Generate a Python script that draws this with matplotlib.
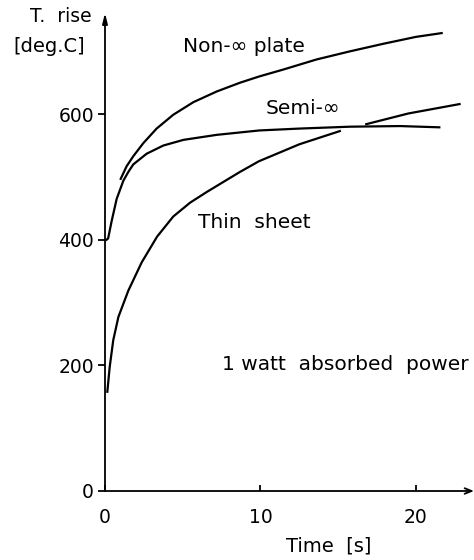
import matplotlib.pyplot as plt

semi_t = [0.1, 0.2, 0.43, 0.75, 1.18, 1.5, 1.82, 2.68, 3.75, 5.04, 7.18, 9.92, 12.5, 15.76, 18.97, 21.5]
semi_T = [400, 402, 430, 465, 494, 508, 520, 537, 550, 559, 567, 574, 577, 580, 581, 579]

plate_t = [1.01, 1.39, 1.82, 2.47, 3.32, 4.39, 5.68, 7.18, 8.68, 9.92, 11.47, 13.6, 15.76, 17.9, 20.0, 21.65]
plate_T = [497, 517, 533, 554, 577, 599, 619, 636, 650, 660, 671, 687, 700, 712, 723, 729]

thin_t1 = [0.15, 0.3, 0.53, 0.86, 1.5, 2.36, 3.35, 4.39, 5.47, 6.54, 7.61, 8.68, 9.9, 12.5, 15.1]
thin_T1 = [158, 197, 240, 277, 319, 364, 405, 437, 459, 476, 492, 508, 525, 552, 573]
thin_t2 = [16.8, 19.5, 22.8]
thin_T2 = [584, 601, 616]

x_ticks = [0, 10, 20]
y_ticks = [0, 200, 400, 600]

fig = plt.figure(figsize=(4.74, 5.6), dpi=100)
ax = fig.add_axes([105 / 474, 69 / 560, 369 / 474, 478 / 560])

lw = 1.6
ax.plot(semi_t, semi_T, color='black', lw=lw)
ax.plot(plate_t, plate_T, color='black', lw=lw)
ax.plot(thin_t1, thin_T1, color='black', lw=lw)
ax.plot(thin_t2, thin_T2, color='black', lw=lw)

ax.set_xlim(0, 23.73)
ax.set_ylim(0, 761)
for side in ['top', 'right', 'left', 'bottom']:
    ax.spines[side].set_visible(False)

# axes drawn as arrows
ax.annotate('', xy=(0, 1.0), xytext=(0, 0), xycoords='axes fraction',
            arrowprops=dict(arrowstyle='-|>,head_length=0.6,head_width=0.15',
                            color='black', lw=1.3, shrinkA=0, shrinkB=0))
ax.annotate('', xy=(1.0, 0), xytext=(0, 0), xycoords='axes fraction',
            arrowprops=dict(arrowstyle='->,head_length=0.5,head_width=0.2',
                            color='black', lw=1.3, shrinkA=0, shrinkB=0))

ax.set_xticks(x_ticks)
ax.set_yticks(y_ticks)
ax.tick_params(axis='x', direction='in', length=4, width=1.3, labelsize=13.5, pad=12)
ax.tick_params(axis='y', direction='out', length=5, width=1.3, labelsize=13.5, pad=3)

ax.set_xlabel('Time  [s]', fontsize=14, labelpad=6)
ax.xaxis.set_label_coords((329 - 105) / 369, -(546 - 491) / 478)
ax.xaxis.label.set_va('center')

fig.text(92 / 474, 1 - 17 / 560, 'T.  rise', ha='right', va='center', fontsize=13.5)
fig.text(13 / 474, 1 - 46 / 560, '[deg.C]', ha='left', va='center', fontsize=14)

fs = 14.5
ax.text(5.0, 707, 'Non-\u221e plate', ha='left', va='center', fontsize=fs)
ax.text(10.3, 609, 'Semi-\u221e', ha='left', va='center', fontsize=fs)
ax.text(6.0, 427, 'Thin  sheet', ha='left', va='center', fontsize=fs)
ax.text(7.5, 201, '1 watt  absorbed  power', ha='left', va='center', fontsize=fs)

fig.savefig('out.png', dpi=100)
